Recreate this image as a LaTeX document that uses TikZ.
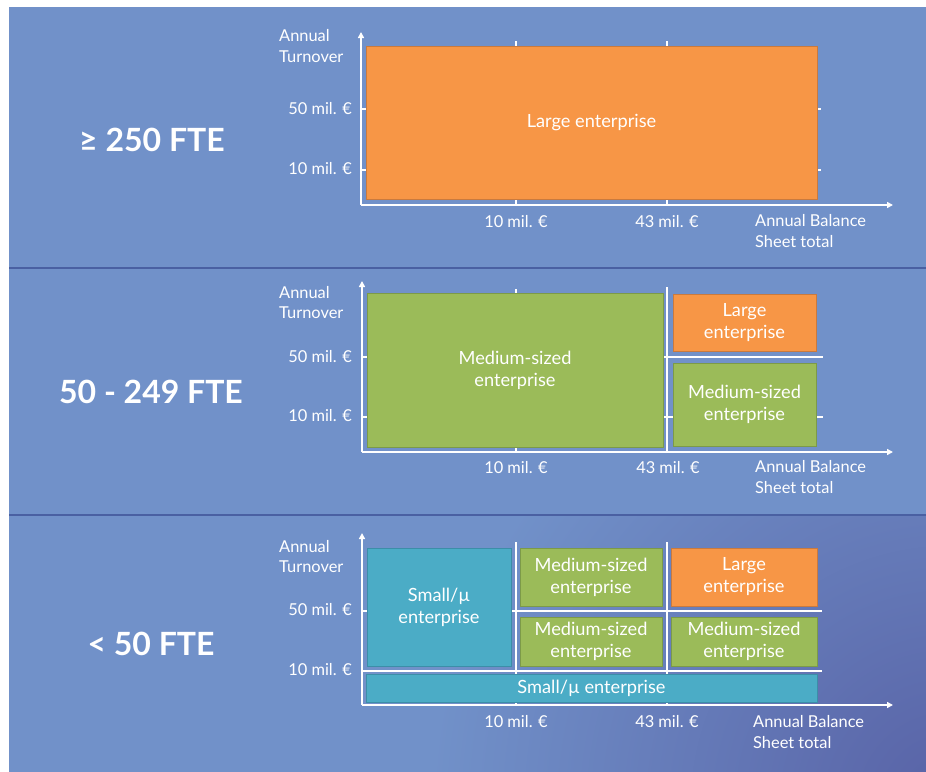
\documentclass[tikz,border=0pt]{standalone}
\usepackage{fontspec}
\setmainfont{Lato}
\usetikzlibrary{arrows.meta}

\definecolor{bgblue}{HTML}{7191C9}
\definecolor{bgdark}{HTML}{5862A6}
\definecolor{sepline}{HTML}{4A60A2}
\definecolor{fillorange}{HTML}{F79646}
\definecolor{lineorange}{HTML}{C97A3E}
\definecolor{fillgreen}{HTML}{9BBB59}
\definecolor{linegreen}{HTML}{7C9A48}
\definecolor{fillteal}{HTML}{4BACC6}
\definecolor{lineteal}{HTML}{3C8EA8}

\begin{document}
\begin{tikzpicture}[x=1pt,y=-1pt,
  axis/.style={draw=white, line width=1.8pt, -{Triangle[width=6pt,length=6pt]}},
  gridline/.style={draw=white, line width=1.8pt},
  sizebox/.style 2 args={minimum width=#1pt, minimum height=#2pt},
  region/.style={inner sep=0pt, outer sep=0pt, align=center, text=white,
                 font=\fontsize{18.2}{22}\selectfont, line width=0.8pt},
  large/.style={region, fill=fillorange, draw=lineorange},
  medium/.style={region, fill=fillgreen, draw=linegreen},
  small/.style={region, fill=fillteal, draw=lineteal},
  ticklabel/.style={text=white, inner sep=0pt, font=\fontsize{16.4}{20.5}\selectfont},
  fte/.style={text=white, inner sep=0pt, font=\fontsize{32}{38}\selectfont\bfseries},
]
\useasboundingbox (0,0) rectangle (926,771);

% background with a darker corner at the bottom right
\fill[white] (0,0) rectangle (926,771);
\fill[bgblue] (9,7) rectangle (932,777);
\begin{scope}
  \clip (9,516) rectangle (932,777);
  \shade[inner color=bgdark, outer color=bgblue] (950,805) circle (520);
\end{scope}
\draw[sepline, line width=1.5pt] (9,268) -- (926,268);
\draw[sepline, line width=1.5pt] (9,515) -- (926,515);

% ---------------- >= 250 FTE ----------------
\node[fte] (fteA) at (152,140) {≥ 250 FTE};
\coordinate (oA) at (361,205);
\coordinate (yA) at (361,32);
\coordinate (xA) at (893,205);
\draw[gridline] (516,41) -- (516,205);
\draw[gridline] (667,41) -- (667,205);
\draw[gridline] (361,109) -- (821,109);
\draw[gridline] (361,170) -- (821,170);
\draw[axis] (oA) -- (yA);
\draw[axis] (oA) -- (xA);
\node[large, sizebox={451}{153}] (lA) at (591.5,122.5) {Large enterprise};
\node[ticklabel, anchor=base east] (yA50) at (352,114) {50 mil. €};
\node[ticklabel, anchor=base east] (yA10) at (352,174) {10 mil. €};
\node[ticklabel, anchor=base] (xA10) at (516,227) {10 mil. €};
\node[ticklabel, anchor=base] (xA43) at (667,227) {43 mil. €};
\node[ticklabel, anchor=north west, align=left] (ytA) at (279,29.5) {Annual\\Turnover};
\node[ticklabel, anchor=north west, align=left] (xtA) at (755,214.5) {Annual Balance\\Sheet total};

% ---------------- 50 - 249 FTE ----------------
\node[fte] (fteB) at (151,392) {50 - 249 FTE};
\coordinate (oB) at (362,452);
\coordinate (yB) at (362,281);
\coordinate (xB) at (893,452);
\draw[gridline] (516,289) -- (516,452);
\draw[gridline] (667,287) -- (667,452);
\draw[gridline] (362,357) -- (823,357);
\draw[gridline] (362,417) -- (823,417);
\draw[axis] (oB) -- (yB);
\draw[axis] (oB) -- (xB);
\node[medium, sizebox={296}{154}] (mB) at (515,370) {Medium-sized\\enterprise};
\node[large, sizebox={143}{57}] (lB) at (744.5,322.5) {Large\\enterprise};
\node[medium, sizebox={143}{83}] (mB2) at (744.5,404.5) {Medium-sized\\enterprise};
\node[ticklabel, anchor=base east] (yB50) at (352,362) {50 mil. €};
\node[ticklabel, anchor=base east] (yB10) at (352,421) {10 mil. €};
\node[ticklabel, anchor=base] (xB10) at (516,473) {10 mil. €};
\node[ticklabel, anchor=base] (xB43) at (668,473) {43 mil. €};
\node[ticklabel, anchor=north west, align=left] (ytB) at (279,286) {Annual\\Turnover};
\node[ticklabel, anchor=north west, align=left] (xtB) at (755,460.5) {Annual Balance\\Sheet total};

% ---------------- < 50 FTE ----------------
\node[fte] (fteC) at (151,644) {< 50 FTE};
\coordinate (oC) at (362,705);
\coordinate (yC) at (362,533);
\coordinate (xC) at (893,705);
\draw[gridline] (516,542) -- (516,705);
\draw[gridline] (667,542) -- (667,705);
\draw[gridline] (362,611) -- (822,611);
\draw[gridline] (362,671) -- (822,671);
\draw[axis] (oC) -- (yC);
\draw[axis] (oC) -- (xC);
\node[small, sizebox={144}{118}] (sC) at (439,607) {Small/µ\\enterprise};
\node[medium, sizebox={142}{58}] (mC1) at (591,577) {Medium-sized\\enterprise};
\node[medium, sizebox={142}{49}] (mC2) at (591,641.5) {Medium-sized\\enterprise};
\node[large, sizebox={146}{58}] (lC) at (744,577) {Large\\enterprise};
\node[medium, sizebox={146}{49}] (mC3) at (744,641.5) {Medium-sized\\enterprise};
\node[small, sizebox={451}{28}] (sC2) at (591.5,688) {Small/µ enterprise};
\node[ticklabel, anchor=base east] (yC50) at (352,615) {50 mil. €};
\node[ticklabel, anchor=base east] (yC10) at (352,675) {10 mil. €};
\node[ticklabel, anchor=base] (xC10) at (516,727) {10 mil. €};
\node[ticklabel, anchor=base] (xC43) at (667,727) {43 mil. €};
\node[ticklabel, anchor=north west, align=left] (ytC) at (279,540) {Annual\\Turnover};
\node[ticklabel, anchor=north west, align=left] (xtC) at (753,715.5) {Annual Balance\\Sheet total};
\end{tikzpicture}
\end{document}
